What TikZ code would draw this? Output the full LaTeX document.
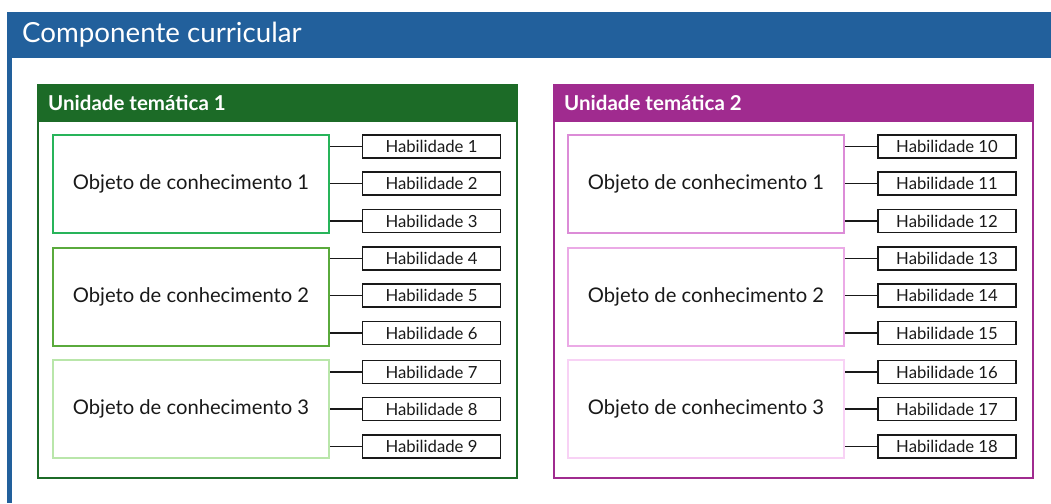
\documentclass[tikz,border=0pt]{standalone}
\usepackage{fontspec}
\setmainfont{Lato}
\definecolor{hdrblue}{RGB}{34,96,156}
\definecolor{dkgreen}{RGB}{28,107,39}
\definecolor{gA}{RGB}{40,180,90}
\definecolor{gB}{RGB}{90,170,60}
\definecolor{gC}{RGB}{185,230,170}
\definecolor{purp}{RGB}{160,43,143}
\definecolor{pA}{RGB}{220,140,215}
\definecolor{pB}{RGB}{235,170,230}
\definecolor{pC}{RGB}{248,210,245}
\definecolor{ink}{RGB}{25,25,25}
\tikzset{
  objbox/.style={draw, line width=2pt, fill=white, minimum width=276pt, minimum height=98pt, inner sep=0pt, font=\fontsize{20.2}{22}\selectfont, text=ink},
  habbox/.style={draw=ink, line width=1.4pt, fill=white, minimum width=138pt, minimum height=23pt, inner sep=0pt, font=\fontsize{16.7}{18}\selectfont, text=ink},
  link/.style={draw=ink, line width=1.3pt},
  unitframe/.style={line width=2pt, fill=white},
  unittitle/.style={anchor=west, text=white, font=\bfseries\fontsize{20.5}{22}\selectfont, inner sep=0pt}
}
\begin{document}
\begin{tikzpicture}[x=1pt,y=-1pt]
\useasboundingbox (0,0) rectangle (1051,503);
\fill[white] (0,0) rectangle (1051,503);
% outer component
\fill[hdrblue] (7,12) rectangle (1051,58);
\fill[hdrblue] (7,58) rectangle (12,503);
\node[anchor=west, text=white, font=\fontsize{27.7}{30}\selectfont, inner sep=0pt] (comp) at (22,35) {Componente curricular};
% unit 1
\draw[unitframe, draw=dkgreen] (38,85) rectangle (517,478);
\fill[dkgreen] (37,84) rectangle (518,122);
\node[unittitle] (u1) at (48,103) {Unidade temática 1};
% unit 2
\draw[unitframe, draw=purp] (554,85) rectangle (1033,478);
\fill[purp] (553,84) rectangle (1034,122);
\node[unittitle] (u2) at (564,103) {Unidade temática 2};
% objects
\node[objbox, draw=gA] (o1) at (191,184) {Objeto de conhecimento 1};
\node[objbox, draw=gB] (o2) at (191,296.5) {Objeto de conhecimento 2};
\node[objbox, draw=gC] (o3) at (191,409) {Objeto de conhecimento 3};
\node[objbox, draw=pA] (o4) at (706,184) {Objeto de conhecimento 1};
\node[objbox, draw=pB] (o5) at (706,296.5) {Objeto de conhecimento 2};
\node[objbox, draw=pC] (o6) at (706,409) {Objeto de conhecimento 3};
% habilidades
\foreach \i/\y in {1/146.5,2/183.5,3/221,4/258.5,5/295.5,6/333,7/372,8/409,9/446.5}{
  \node[habbox] (h\i) at (431.5,\y) {Habilidade \i};
}
\foreach \i/\y in {10/146.5,11/183.5,12/221,13/258.5,14/295.5,15/333,16/372,17/409,18/446.5}{
  \node[habbox] (h\i) at (947,\y) {Habilidade \i};
}
% connectors
\foreach \o/\a/\b/\c in {o1/1/2/3,o2/4/5/6,o3/7/8/9,o4/10/11/12,o5/13/14/15,o6/16/17/18}{
  \draw[link] (\o.east |- h\a.west) -- (h\a.west);
  \draw[link] (\o.east |- h\b.west) -- (h\b.west);
  \draw[link] (\o.east |- h\c.west) -- (h\c.west);
}
\end{tikzpicture}
\end{document}
